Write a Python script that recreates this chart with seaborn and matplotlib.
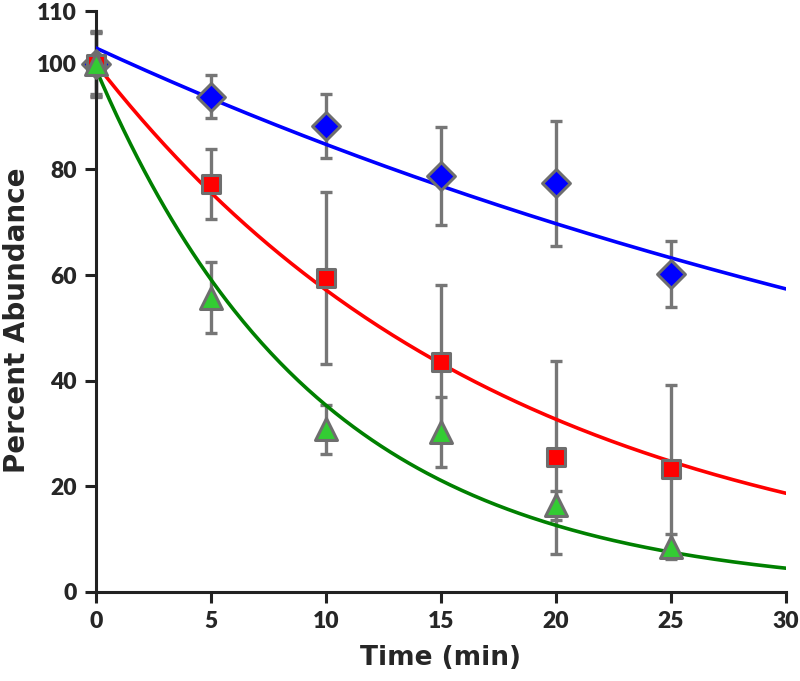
import numpy as np
import pandas as pd
import matplotlib
matplotlib.use("Agg")
import matplotlib.pyplot as plt
import seaborn as sns

# ---- data ----
time = [0, 5, 10, 15, 20, 25]
blue_vals = [100, 93.8, 88.2, 78.7, 77.4, 60.2]
blue_err = [5.8, 4.1, 6.0, 9.3, 11.8, 6.2]
red_vals = [100, 77.3, 59.4, 43.5, 25.5, 23.2]
red_err = [6.0, 6.6, 16.3, 14.7, 18.3, 15.9]
green_vals = [100, 55.7, 30.8, 30.3, 16.4, 8.6]
green_err = [6.3, 6.7, 4.6, 6.6, 2.8, 2.4]

# exponential fit parameters (amplitude, rate)
fit_amp = [103.0, 100.0, 99.0]
fit_rate = [0.0195, 0.0559, 0.103]

x_ticks = [0, 5, 10, 15, 20, 25, 30]
y_ticks = [0, 20, 40, 60, 80, 100, 110]

series_names = ["blue", "red", "green"]
line_colors = ["#0000ff", "#ff0000", "#008000"]
fill_colors = ["#0000ff", "#ff0000", "#33cc33"]
markers = ["D", "s", "^"]
marker_sizes = [200, 150, 250]

sns.set_style("ticks")
plt.rcParams["font.family"] = ["Lato", "DejaVu Sans"]

fig = plt.figure(figsize=(8.0, 6.81), dpi=100)
ax = fig.add_axes([0.12, 0.1307, 0.8625, 0.8531])

vals = [blue_vals, red_vals, green_vals]
errs = [blue_err, red_err, green_err]

# error bars
for v, e in zip(vals, errs):
    ax.errorbar(time, v, yerr=e, fmt="none", ecolor="#767676", elinewidth=2.4,
                capsize=4.3, capthick=2.4, zorder=2, clip_on=False)

# fitted curves
tt = np.linspace(0, 30, 301)
for name, a, k, c in zip(series_names, fit_amp, fit_rate, line_colors):
    df = pd.DataFrame({"t": tt, "y": a * np.exp(-k * tt)})
    sns.lineplot(data=df, x="t", y="y", color=c, linewidth=2.6, ax=ax, zorder=3)

# markers
for v, m, s, fc in zip(vals, markers, marker_sizes, fill_colors):
    df = pd.DataFrame({"t": time, "y": v})
    sns.scatterplot(data=df, x="t", y="y", marker=m, s=s, color=fc,
                    edgecolor="#6e6e6e", linewidth=2.2, ax=ax, zorder=4, clip_on=False)

ax.set_xlim(0, 30)
ax.set_ylim(0, 110)
ax.set_xticks(x_ticks)
ax.set_yticks(y_ticks)
ax.set_xticklabels([str(t) for t in x_ticks])
ax.set_yticklabels([str(t) for t in y_ticks])
for sp in ["top", "right"]:
    ax.spines[sp].set_visible(False)
for sp in ["left", "bottom"]:
    ax.spines[sp].set_linewidth(2.2)
    ax.spines[sp].set_color("#222222")
ax.tick_params(axis="both", direction="out", length=8, width=2.2, color="#222222",
               labelsize=16.5, pad=6)
for lab in ax.get_xticklabels() + ax.get_yticklabels():
    lab.set_fontweight("heavy")
ax.set_xlabel("Time (min)", fontsize=19, fontweight="bold", family="DejaVu Sans", labelpad=9)
ax.set_ylabel("Percent Abundance", fontsize=20, fontweight="bold", family="DejaVu Sans")
ax.yaxis.set_label_coords(-0.094, 0.468)

fig.savefig("out.png", dpi=100)
